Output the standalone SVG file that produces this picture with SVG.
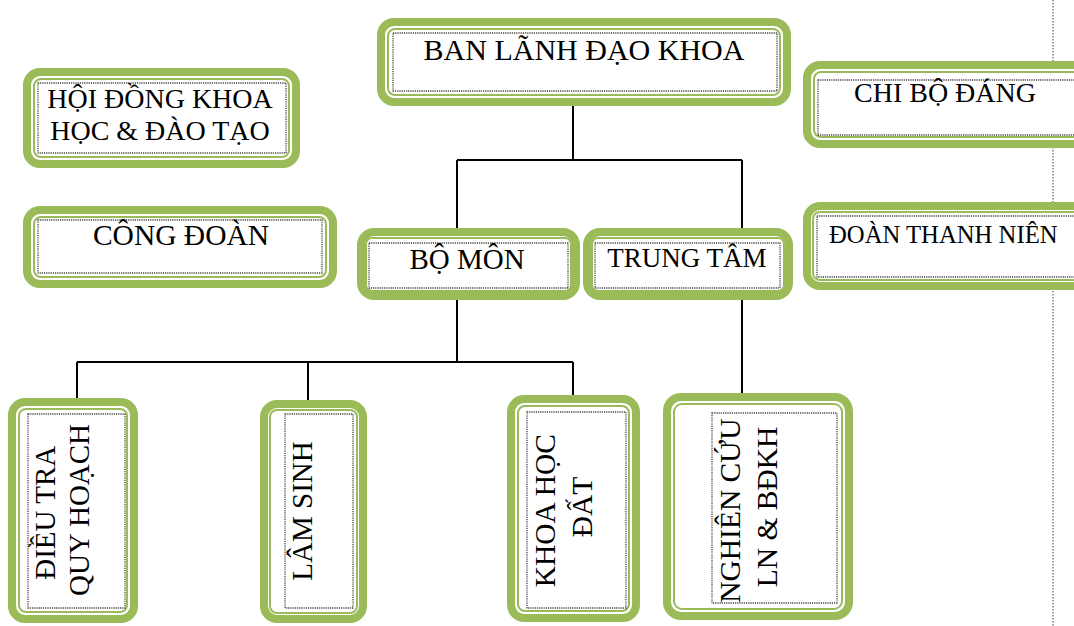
<svg xmlns="http://www.w3.org/2000/svg" width="1074" height="626" viewBox="0 0 1074 626">
  <style>
    .frame { fill: #ffffff; stroke: #9BBB59; stroke-width: 8; }
    .rim { fill: none; stroke: #9BBB59; stroke-width: 2; }
    .dots { fill: none; stroke: #444444; stroke-width: 1.3; stroke-dasharray: 1.2 1; }
    .lbl { font-family: "Liberation Serif", "Times New Roman", serif; fill: #000000; }
    .wire { stroke: #000000; stroke-width: 2; fill: none; }
    .page { stroke: #666666; stroke-width: 1.2; stroke-dasharray: 1.5 1.5; fill: none; }
  </style>

  <rect width="1074" height="626" fill="#ffffff"/>

  <!-- page boundary -->
  <line class="page" x1="1053" y1="0" x2="1053" y2="626"/>

  <!-- connectors -->
  <g id="connectors">
    <path class="wire" d="M573 106 V160 M457 160 H742 M457 160 V228 M742 160 V228"/>
    <path class="wire" d="M457 300 V362 M77 362 H573 M77 362 V398 M308 362 V400 M573 362 V395"/>
    <path class="wire" d="M742 300 V393"/>
  </g>

  <g id="ban-lanh-dao">
    <rect class="frame" x="381" y="22" width="406" height="80" rx="13"/>
    <rect class="rim" x="388" y="29" width="392" height="66" rx="7"/>
    <rect class="dots" x="393" y="33" width="384" height="58"/>
    <text class="lbl" x="584" y="60" font-size="30" text-anchor="middle">BAN LÃNH ĐẠO KHOA</text>
  </g>

  <g id="hoi-dong">
    <rect class="frame" x="27" y="72" width="269" height="92" rx="13"/>
    <rect class="rim" x="34" y="79" width="255" height="78" rx="7"/>
    <rect class="dots" x="38" y="83" width="248" height="70"/>
    <text class="lbl" x="160" y="108" font-size="28" text-anchor="middle">HỘI ĐỒNG KHOA</text>
    <text class="lbl" x="160" y="140" font-size="28" text-anchor="middle">HỌC &amp; ĐÀO TẠO</text>
  </g>

  <g id="cong-doan">
    <rect class="frame" x="27" y="210" width="306" height="74" rx="13"/>
    <rect class="rim" x="34" y="217" width="292" height="60" rx="7"/>
    <rect class="dots" x="38" y="220" width="284" height="53"/>
    <text class="lbl" x="181" y="245" font-size="29.5" text-anchor="middle">CÔNG ĐOÀN</text>
  </g>

  <g id="chi-bo">
    <rect class="frame" x="807" y="65" width="290" height="79" rx="13"/>
    <rect class="rim" x="814" y="72" width="276" height="65" rx="7"/>
    <rect class="dots" x="818" y="80" width="270" height="55"/>
    <text class="lbl" x="945" y="102" font-size="28" text-anchor="middle">CHI BỘ ĐÁNG</text>
  </g>

  <g id="doan-thanh-nien">
    <rect class="frame" x="807" y="206" width="290" height="80" rx="13"/>
    <rect class="rim" x="813" y="212" width="276" height="68" rx="7"/>
    <rect class="dots" x="817" y="216" width="270" height="61"/>
    <text class="lbl" x="829" y="243" font-size="24.7">ĐOÀN THANH NIÊN</text>
  </g>

  <g id="bo-mon">
    <rect class="frame" x="361" y="232" width="215" height="64" rx="13"/>
    <rect class="rim" x="366" y="238" width="205" height="53" rx="6"/>
    <rect class="dots" x="369" y="243" width="199" height="45"/>
    <text class="lbl" x="467" y="269" font-size="29" text-anchor="middle">BỘ MÔN</text>
  </g>

  <g id="trung-tam">
    <rect class="frame" x="587" y="232" width="202" height="64" rx="13"/>
    <rect class="rim" x="592" y="238" width="192" height="53" rx="6"/>
    <rect class="dots" x="595" y="243" width="185" height="45"/>
    <text class="lbl" x="687" y="267" font-size="27" text-anchor="middle">TRUNG TÂM</text>
  </g>

  <g id="dieu-tra">
    <rect class="frame" x="12" y="402" width="122" height="217" rx="13"/>
    <rect class="rim" x="19" y="409" width="108" height="203" rx="7"/>
    <rect class="dots" x="28" y="414" width="97" height="194"/>
    <text class="lbl" transform="translate(55,510) rotate(-90)" font-size="29" text-anchor="middle">
      <tspan x="0" y="0">ĐIỀU TRA</tspan>
      <tspan x="0" y="34">QUY HOẠCH</tspan>
    </text>
  </g>

  <g id="lam-sinh">
    <rect class="frame" x="264" y="404" width="99" height="215" rx="13"/>
    <rect class="rim" x="270" y="410" width="87" height="203" rx="7"/>
    <rect class="dots" x="285" y="414" width="68" height="194"/>
    <text class="lbl" transform="translate(312,511) rotate(-90)" font-size="29" text-anchor="middle">LÂM SINH</text>
  </g>

  <g id="khoa-hoc-dat">
    <rect class="frame" x="511" y="399" width="125" height="219" rx="13"/>
    <rect class="rim" x="518" y="406" width="111" height="205" rx="7"/>
    <rect class="dots" x="527" y="412" width="99" height="196"/>
    <text class="lbl" transform="translate(555,507) rotate(-90)" font-size="29.5" text-anchor="middle">
      <tspan x="0" y="0">KHOA HỌC</tspan>
      <tspan x="0" y="37">ĐẤT</tspan>
    </text>
  </g>

  <g id="nghien-cuu">
    <rect class="frame" x="667" y="397" width="182" height="219" rx="14"/>
    <rect class="rim" x="674" y="404" width="168" height="205" rx="8"/>
    <rect class="dots" x="712" y="413" width="125" height="190"/>
    <text class="lbl" transform="translate(740,507) rotate(-90)" font-size="29.5" text-anchor="middle">
      <tspan x="0" y="0">NGHIÊN CỨU</tspan>
      <tspan x="0" y="37">LN &amp; BĐKH</tspan>
    </text>
  </g>
</svg>
